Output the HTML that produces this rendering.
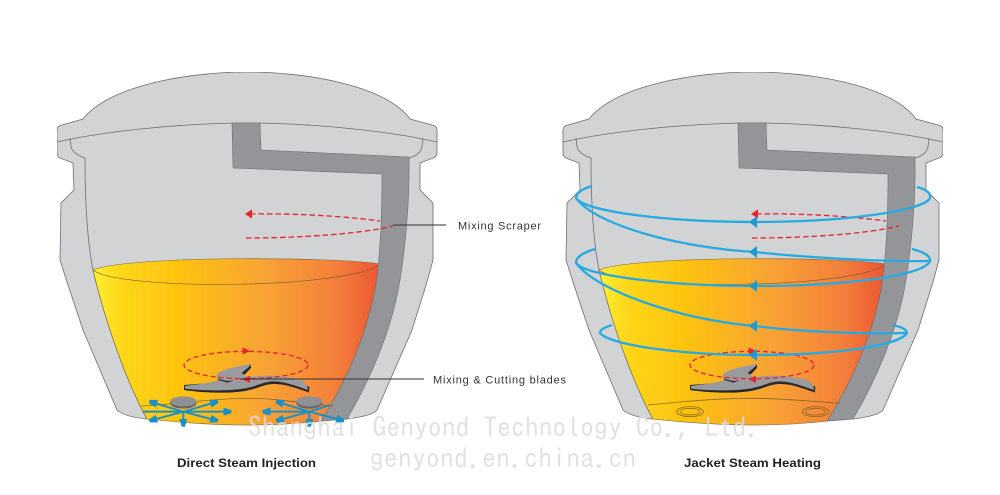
<!DOCTYPE html>
<html>
<head>
<meta charset="utf-8">
<style>
html,body{margin:0;padding:0;background:#fff;width:1000px;height:495px;overflow:hidden}
svg{display:block}
.lab{font-family:"Liberation Sans",sans-serif;font-size:11px;fill:#333}
.cap{font-family:"Liberation Sans",sans-serif;font-size:11.5px;font-weight:bold;fill:#222}
.wm{font-family:"IPAGothic","Liberation Mono",monospace;fill:#dcdcdc;fill-opacity:.85}
</style>
</head>
<body>
<svg width="1000" height="495" viewBox="0 0 1000 495" xmlns="http://www.w3.org/2000/svg">
<defs>
<filter id="soft" x="0" y="0" width="100%" height="100%"><feGaussianBlur stdDeviation="0.35"/></filter>
<linearGradient id="fl" gradientUnits="userSpaceOnUse" x1="93" y1="0" x2="380" y2="0">
<stop offset="0" stop-color="#fff033"/>
<stop offset=".1" stop-color="#fed61a"/>
<stop offset=".3" stop-color="#fdc30f"/>
<stop offset=".6" stop-color="#f8a335"/>
<stop offset=".85" stop-color="#f37f3a"/>
<stop offset="1" stop-color="#ec5534"/>
</linearGradient>
<marker id="ba" viewBox="0 0 10 10" refX="9" refY="5" markerWidth="4" markerHeight="4" orient="auto"><path d="M0,0L10,3L10,7L0,10Z" fill="#1f8fc4"/></marker>
<g id="vessel">
<path d="M83,119C110,85 190,72 247,72C305,72 385,85 410,119L432,125Q437,126 437,130L437,152Q437,157 433,158L420,163L420,190L433,203L433,260L427,282L412,330L377,410Q372,416 347,419L321,421Q247,428 147,419Q125,417 117,410L83,330L67,282L60,260L61,203L74,190L73,163L60,158Q57,157 57,152L57,130Q57,126 62,125Z" fill="#d1d3d4" stroke="#6d6e71" stroke-width=".8"/>
<path d="M57,142C110,130 190,123 247,123C305,123 385,130 437,142" fill="none" stroke="#6d6e71" stroke-width=".8"/>
<path d="M70,138L71,147Q73,154 85,158C85,200 87,240 93,270C100,300 120,370 147,419" fill="none" stroke="#6d6e71" stroke-width=".8"/>
<path d="M423,138L422,147Q420,155 409,158" fill="none" stroke="#6d6e71" stroke-width=".8"/>
<!-- fluid -->
<path d="M93,270C100,300 120,370 147,419Q247,430 321,421C350,375 367,330 375,290L380,264C340,257 130,255 93,270Z" fill="url(#fl)" stroke="#7a6a40" stroke-width=".6"/>
<path d="M93,270C120,291 350,289 380,264" fill="none" stroke="#7a5a30" stroke-width=".6"/>
<!-- scraper -->
<path d="M232,123L260,123L261,150L409,157C410,200 405,250 400,280C392,330 370,380 347,419L321,421C350,375 367,330 375,290C380,260 382,220 382,174L233,168Z" fill="#939598" stroke="#6d6e71" stroke-width=".6"/>
<!-- blades, in 3x crop coordinates -->
<g transform="translate(170,340) scale(.3333)">
<path d="M42,138L42,150C100,159 180,161 225,153C265,146 280,133 310,132C350,131 385,148 417,157L418,140L300,115L42,135Z" fill="#2a2a2c"/>
<path d="M45,138C100,130 125,128 145,120L150,118C175,120 215,112 250,110C290,104 350,108 385,118C405,122 412,135 414,150C385,140 345,124 310,124C275,126 265,138 225,145C180,153 100,153 45,146Z" fill="#9a9b9e"/>
<path d="M242,72L243,84L224,104L214,100Z" fill="#2a2a2c"/>
<path d="M140,108L145,120L172,128L190,122Z" fill="#2a2a2c"/>
<path d="M140,105C150,88 200,80 242,72C238,85 218,92 216,100C220,108 240,110 250,112L175,123C155,120 138,118 140,105Z" fill="#9a9b9e"/>
<ellipse cx="228" cy="75" rx="186" ry="41" fill="none" stroke="#e8202f" stroke-width="4" stroke-dasharray="15 9"/>
<path d="M218,22L240,33L218,44Z" fill="#e8202f"/>
<path d="M240,107L218,118L240,129Z" fill="#e8202f"/>
</g>
<!-- red flow near scraper -->
<path d="M250,214C300,213 350,217 380,221" fill="none" stroke="#e8202f" stroke-width="1.300" stroke-dasharray="5.500 3"/>
<path d="M246,238C300,238 360,234 393,226" fill="none" stroke="#e8202f" stroke-width="1.300" stroke-dasharray="5.500 3"/>
<path d="M245,214L252,209.500L252,218.500Z" fill="#e8202f"/>
</g>
</defs>

<g filter="url(#soft)">
<use href="#vessel"/>
<use href="#vessel" x="506"/>

<!-- left: nozzles -->
<g transform="translate(80,330) scale(.3333)">
<path d="M185,228C300,222 400,205 500,205C600,205 680,222 760,228" fill="none" stroke="#7a5a30" stroke-width="2"/>
<g stroke="#1f8fc4" stroke-width="6" fill="none">
<path d="M310,245L210,215" marker-end="url(#ba)"/>
<path d="M310,245L412,215" marker-end="url(#ba)"/>
<path d="M310,245L452,245" marker-end="url(#ba)"/>
<path d="M310,245L188,245"/>
<path d="M310,245L210,272" marker-end="url(#ba)"/>
<path d="M310,245L412,272" marker-end="url(#ba)"/>
<path d="M310,245L310,288" marker-end="url(#ba)"/>
<path d="M688,245L590,215" marker-end="url(#ba)"/>
<path d="M688,245L550,245" marker-end="url(#ba)"/>
<path d="M688,245L590,272" marker-end="url(#ba)"/>
<path d="M688,245L688,288" marker-end="url(#ba)"/>
<path d="M688,245L790,272" marker-end="url(#ba)"/>
<path d="M688,245L750,225"/>
</g>
<ellipse cx="310" cy="219" rx="40" ry="17" fill="#66676a"/>
<ellipse cx="310" cy="214" rx="39" ry="15" fill="#8f9093"/>
<ellipse cx="688" cy="219" rx="40" ry="17" fill="#66676a"/>
<ellipse cx="688" cy="214" rx="39" ry="15" fill="#8f9093"/>
</g>

<!-- right: floor and rings -->
<g transform="translate(550,170) scale(.3333)" fill="none" stroke="#8a6a20" stroke-width="2.500">
<path d="M295,705C400,695 500,685 600,685C700,685 800,695 870,700"/>
<ellipse cx="420" cy="725" rx="40" ry="15"/>
<ellipse cx="420" cy="725" rx="30" ry="10"/>
<ellipse cx="797" cy="725" rx="40" ry="15"/>
<ellipse cx="797" cy="725" rx="30" ry="10"/>
</g>

<!-- right: coils -->
<g fill="none" stroke="#27aae1" stroke-width="2.300">
<path d="M917,187C928,190 931,194 930,198C925,210 850,222 755,222C670,222 585,212 576,198C576,192 585,188 592,186"/>
<path d="M576,198C595,225 680,248 755,252C800,257 880,262 930,261"/>
<path d="M912,249C925,252 931,257 930,261C925,275 850,286 755,286C670,286 585,276 576,263C576,256 585,252 595,249"/>
<path d="M576,263C595,290 680,320 755,326C800,332 860,334 907,333"/>
<path d="M893,325C902,327 907,330 907,333C900,345 840,355 755,355C680,355 610,345 600,333C600,329 606,327 612,325"/>
</g>
<g fill="#1f9bd3">
<path d="M749,222L757,216L757,228Z"/>
<path d="M749,252L757,246L757,258Z"/>
<path d="M749,286L757,280L757,292Z"/>
<path d="M749,326L757,320L757,332Z"/>
<path d="M749,355L757,349L757,361Z"/>
</g>

<!-- leaders -->
<path d="M393,225L446,225" stroke="#333" stroke-width=".9" fill="none"/>
<path d="M240,379L424,379" stroke="#333" stroke-width=".9" fill="none"/>
<text class="lab" x="458" y="229.500" textLength="83" lengthAdjust="spacing">Mixing Scraper</text>
<text class="lab" x="433" y="383.500" textLength="133" lengthAdjust="spacing">Mixing &amp; Cutting blades</text>
<text class="cap" x="177" y="467" textLength="139" lengthAdjust="spacingAndGlyphs">Direct Steam Injection</text>
<text class="cap" x="684" y="467" textLength="137" lengthAdjust="spacingAndGlyphs">Jacket Steam Heating</text>
</g>

<!-- watermark -->
<text class="wm" x="248" y="437" font-size="27" textLength="512">Shanghai Genyond Technology Co., Ltd.</text>
<text class="wm" x="370" y="468" font-size="27" textLength="266">genyond.en.china.cn</text>
</svg>
</body>
</html>
